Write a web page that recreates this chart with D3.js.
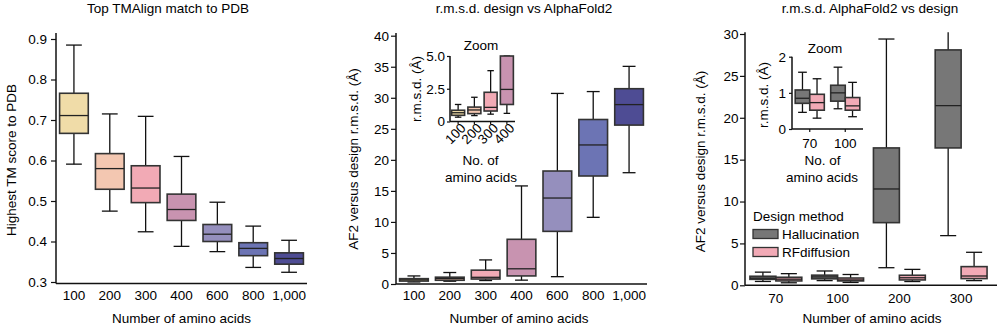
<!DOCTYPE html>
<html>
<head>
<meta charset="utf-8">
<script src="https://cdn.jsdelivr.net/npm/d3@7"></script>
<style>
body { margin: 0; background: #fff; }
svg text { font-family: "Liberation Sans", Arial, Helvetica, sans-serif; font-size: 13.5px; fill: #000; }
</style>
</head>
<body>
<div id="chart"></div>
<script>

// box stats are [low whisker, Q1, median, Q3, high whisker]
let tmLengths = ["100", "200", "300", "400", "600", "800", "1,000"];
let tmScore = [
	[0.591, 0.667, 0.711, 0.766, 0.885],
	[0.475, 0.529, 0.580, 0.617, 0.715],
	[0.424, 0.496, 0.532, 0.587, 0.709],
	[0.388, 0.452, 0.479, 0.517, 0.610],
	[0.375, 0.400, 0.418, 0.442, 0.497],
	[0.336, 0.365, 0.383, 0.397, 0.438],
	[0.324, 0.344, 0.358, 0.372, 0.403]
];
let tmTicks = [0.3, 0.4, 0.5, 0.6, 0.7, 0.8, 0.9];

let afRmsd = [
	[0.33, 0.47, 0.67, 0.86, 1.30],
	[0.45, 0.60, 0.88, 1.10, 1.85],
	[0.56, 0.80, 1.08, 2.23, 3.88],
	[0.62, 1.30, 2.45, 7.20, 15.8],
	[1.18, 8.48, 13.85, 18.2, 30.7],
	[10.74, 17.4, 22.4, 26.5, 31.0],
	[17.93, 25.6, 28.9, 31.46, 35.06]
];
let afTicks = [0, 5, 10, 15, 20, 25, 30, 35, 40];
let afZoomLengths = ["100", "200", "300", "400"];
let afZoomTicks = [0, 2.5, 5];

let methods = ["Hallucination", "RFdiffusion"];
let cmpLengths = ["70", "100", "200", "300"];
let hallRmsd = [
	[0.46, 0.71, 0.85, 1.08, 1.57],
	[0.56, 0.77, 1.00, 1.21, 1.71],
	[2.10, 7.48, 11.5, 16.4, 29.4],
	[5.93, 16.4, 21.45, 28.1, 31.5]
];
let rfdRmsd = [
	[0.30, 0.52, 0.73, 0.96, 1.39],
	[0.34, 0.52, 0.64, 0.87, 1.29],
	[0.45, 0.64, 0.90, 1.20, 1.90],
	[0.56, 0.80, 1.11, 2.23, 3.94]
];
let cmpTicks = [0, 5, 10, 15, 20, 25, 30];
let cmpZoomLengths = ["70", "100"];
let cmpZoomTicks = [0, 1, 2];

let lengthColor = d3.scaleOrdinal()
	.domain(tmLengths)
	.range(["#f0dca8", "#f3c7b1", "#f2aab5", "#c893b0", "#958fbd", "#6c74b4", "#4e4c94"]);
let methodColor = d3.scaleOrdinal()
	.domain(methods)
	.range(["#777777", "#f2aab6"]);

let svg = d3.select("#chart")
	.append("svg")
	.attr("width", 1005)
	.attr("height", 330);

function drawBox(g, cx, w, s, y, fill, capFrac, topPx)
{
	let py = v => Math.max(y(v), topPx);
	let lo = py(s[0]), q1 = py(s[1]), md = py(s[2]), q3 = py(s[3]), hi = py(s[4]);
	let cw = w * capFrac / 2;

	g.append("line").attr("x1", cx).attr("x2", cx).attr("y1", hi).attr("y2", q3)
		.attr("stroke", "#111").attr("stroke-width", 1.3);
	g.append("line").attr("x1", cx).attr("x2", cx).attr("y1", q1).attr("y2", lo)
		.attr("stroke", "#111").attr("stroke-width", 1.3);
	// no cap when the whisker runs off the top of the axis
	if (y(s[4]) >= topPx) {
		g.append("line").attr("x1", cx - cw).attr("x2", cx + cw).attr("y1", hi).attr("y2", hi)
			.attr("stroke", "#111").attr("stroke-width", 1.3);
	}
	g.append("line").attr("x1", cx - cw).attr("x2", cx + cw).attr("y1", lo).attr("y2", lo)
		.attr("stroke", "#111").attr("stroke-width", 1.3);

	g.append("rect")
		.attr("x", cx - w / 2)
		.attr("y", q3)
		.attr("width", w)
		.attr("height", Math.max(q1 - q3, 0.5))
		.attr("fill", fill)
		.attr("stroke", "#333")
		.attr("stroke-width", 1.6);
	g.append("line").attr("x1", cx - w / 2).attr("x2", cx + w / 2).attr("y1", md).attr("y2", md)
		.attr("stroke", "#222").attr("stroke-width", 1.3);
}

function drawLeftAxis(x0, y, ticks, fmt, top, bottom, tickSize, pad)
{
	let g = svg.append("g")
		.attr("transform", "translate(" + x0 + ",0)")
		.call(d3.axisLeft(y).tickValues(ticks).tickFormat(fmt).tickSize(tickSize).tickPadding(pad));
	g.select(".domain").remove();
	g.selectAll(".tick line").attr("stroke", "#111").attr("stroke-width", 1.2);
	g.attr("font-family", null).attr("font-size", null);
	svg.append("line").attr("x1", x0).attr("x2", x0).attr("y1", top).attr("y2", bottom)
		.attr("stroke", "#111").attr("stroke-width", 1.5);
	return g;
}

function drawBottomAxis(y0, x, left, right, tickSize, pad)
{
	let g = svg.append("g")
		.attr("transform", "translate(0," + y0 + ")")
		.call(d3.axisBottom(x).tickSize(tickSize).tickPadding(pad));
	g.select(".domain").remove();
	g.selectAll(".tick line").attr("stroke", "#111").attr("stroke-width", 1.2);
	g.attr("font-family", null).attr("font-size", null);
	svg.append("line").attr("x1", left).attr("x2", right).attr("y1", y0).attr("y2", y0)
		.attr("stroke", "#111").attr("stroke-width", 1.5);
	return g;
}

function addText(x, y, txt, anchor, rotate)
{
	let t = svg.append("text")
		.attr("text-anchor", anchor || "middle")
		.text(txt);
	if (rotate) {
		t.attr("transform", "translate(" + x + "," + y + ") rotate(" + rotate + ")");
	} else {
		t.attr("x", x).attr("y", y);
	}
	return t;
}

// ---------- panel 1: TM score ----------
let tmX = d3.scaleBand().domain(tmLengths).range([56, 307]).paddingInner(0.2).paddingOuter(0.1);
let tmY = d3.scaleLinear().domain([0.3, 0.9]).range([282, 39]);

drawLeftAxis(56, tmY, tmTicks, d3.format(".1f"), 33, 283.5, 5, 4);
drawBottomAxis(283.5, tmX, 56, 307, 0, 6.5);

let p1 = svg.append("g");
tmLengths.forEach((k, i) => {
	drawBox(p1, tmX(k) + tmX.bandwidth() / 2, tmX.bandwidth(), tmScore[i], tmY, lengthColor(k), 0.55, 0);
});

addText(168, 13, "Top TMAlign match to PDB");
addText(181.5, 323, "Number of amino acids");
addText(15.5, 160, "Highest TM score to PDB", "middle", -90);

// ---------- panel 2: r.m.s.d. design vs AF2 ----------
let afX = d3.scaleBand().domain(tmLengths).range([396, 647]).paddingInner(0.2).paddingOuter(0.1);
let afY = d3.scaleLinear().domain([0, 40]).range([284, 35.7]);

drawLeftAxis(396, afY, afTicks, d3.format("d"), 33, 284, 5, 2);
drawBottomAxis(284, afX, 396, 647, 0, 6.5);

let p2 = svg.append("g");
tmLengths.forEach((k, i) => {
	drawBox(p2, afX(k) + afX.bandwidth() / 2, afX.bandwidth(), afRmsd[i], afY, lengthColor(k), 0.45, 0);
});

addText(524, 13, "r.m.s.d. design vs AlphaFold2");
addText(519, 323, "Number of amino acids");
addText(357.5, 159, "AF2 versus design r.m.s.d. (Å)", "middle", -90);

// inset
let azX = d3.scaleBand().domain(afZoomLengths).range([450, 515]).paddingInner(0.2).paddingOuter(0.1);
let azY = d3.scaleLinear().domain([0, 5]).range([121.5, 56]);

drawLeftAxis(450, azY, afZoomTicks, d => d === 0 ? "0" : d3.format(".1f")(d), 56, 121.5, 3, 2);
svg.append("line").attr("x1", 450).attr("x2", 515).attr("y1", 121.5).attr("y2", 121.5)
	.attr("stroke", "#111").attr("stroke-width", 1.5);
afZoomLengths.forEach(k => {
	let cx = azX(k) + azX.bandwidth() / 2;
	svg.append("line").attr("x1", cx).attr("x2", cx).attr("y1", 121.5).attr("y2", 124.5)
		.attr("stroke", "#111").attr("stroke-width", 1.2);
	addText(cx + 8.5, 129, k, "end", -45);
});

let p2z = svg.append("g");
afZoomLengths.forEach((k, i) => {
	let s = afRmsd[i].map(v => Math.min(v, 5));
	drawBox(p2z, azX(k) + azX.bandwidth() / 2, azX.bandwidth(), s, azY, lengthColor(k), 0.5, 0);
});

addText(481, 49.5, "Zoom");
addText(421, 89, "r.m.s.d. (Å)", "middle", -90);
addText(480.5, 165, "No. of");
addText(481, 181.7, "amino acids");

// ---------- panel 3: hallucination vs RFdiffusion ----------
let cmpX = d3.scaleBand().domain(cmpLengths).range([745, 992]).paddingInner(0.16).paddingOuter(0.08);
let cmpSub = d3.scaleBand().domain(methods).range([0, cmpX.bandwidth()]);
let cmpY = d3.scaleLinear().domain([0, 30]).range([285.3, 34]);

drawLeftAxis(745, cmpY, cmpTicks, d3.format("d"), 32.3, 285.3, 5, 1.5);
drawBottomAxis(285.3, cmpX, 745, 997, 0, 8);

let p3 = svg.append("g");
cmpLengths.forEach((k, i) => {
	[hallRmsd[i], rfdRmsd[i]].forEach((s, j) => {
		let m = methods[j];
		let cx = cmpX(k) + cmpSub(m) + cmpSub.bandwidth() / 2;
		drawBox(p3, cx, cmpSub.bandwidth(), s, cmpY, methodColor(m), 0.62, 32.3);
	});
});

addText(870, 13, "r.m.s.d. AlphaFold2 vs design");
addText(872, 323, "Number of amino acids");
addText(704.5, 161.5, "AF2 versus design r.m.s.d. (Å)", "middle", -90);

// inset
let czX = d3.scaleBand().domain(cmpZoomLengths).range([792, 863]).paddingInner(0.18).paddingOuter(0.09);
let czSub = d3.scaleBand().domain(methods).range([0, czX.bandwidth()]);
let czY = d3.scaleLinear().domain([0, 2]).range([129, 56.7]);

drawLeftAxis(792, czY, cmpZoomTicks, d3.format("d"), 56.7, 129, 3, 3);
drawBottomAxis(129, czX, 792, 863, 3, 6.5);

let p3z = svg.append("g");
cmpZoomLengths.forEach((k, i) => {
	[hallRmsd[i], rfdRmsd[i]].forEach((s, j) => {
		let m = methods[j];
		let cx = czX(k) + czSub(m) + czSub.bandwidth() / 2;
		drawBox(p3z, cx, czSub.bandwidth(), s, czY, methodColor(m), 0.6, 0);
	});
});

addText(825, 52.7, "Zoom");
addText(767.5, 95, "r.m.s.d. (Å)", "middle", -90);
addText(822.5, 165, "No. of");
addText(822, 181.7, "amino acids");

// legend
addText(753, 221, "Design method", "start");
methods.forEach((m, i) => {
	svg.append("rect")
		.attr("x", 753)
		.attr("y", 229.5 + i * 18)
		.attr("width", 25)
		.attr("height", 9)
		.attr("fill", methodColor(m))
		.attr("stroke", "#333")
		.attr("stroke-width", 1.3);
	addText(782, 238.5 + i * 18, m, "start");
});

</script>
</body>
</html>
